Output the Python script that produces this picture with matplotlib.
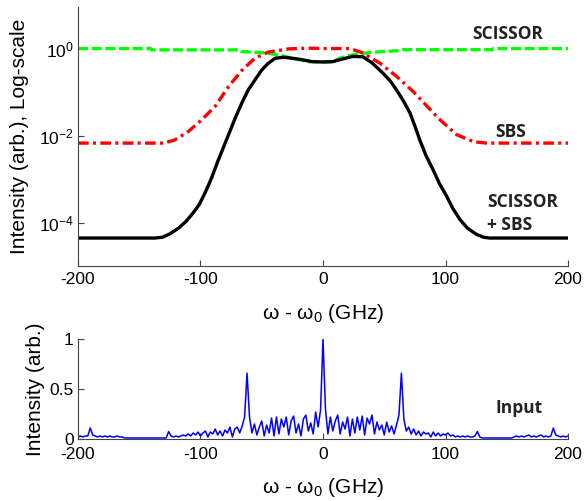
import numpy as np
import matplotlib
matplotlib.use('Agg')
import matplotlib.pyplot as plt

plt.rcParams['font.family'] = ['Liberation Sans', 'DejaVu Sans']
plt.rcParams['mathtext.default'] = 'regular'
plt.rcParams['axes.unicode_minus'] = False


# top panel: filter responses (GHz, intensity)
scissor_x = [-200, -141, -140, -68, -67, -47, -37, -28.5, -20, -12, 0, 8, 14, 24.5, 38, 63, 65, 138, 139, 200]
scissor_y = [1.0, 1.0, 0.93, 0.93, 0.86, 0.79, 0.72, 0.63, 0.56, 0.50, 0.49, 0.50, 0.60, 0.72, 0.81, 0.90, 0.94, 0.94, 1.0, 1.0]

sbs_x = [-200, -130, -121, -110, -99, -88, -77, -66, -55.5, -44.6, -28, -12, 0, 22, 32.6, 46.5, 60, 74, 85, 95.5, 109, 123, 133.6, 200]
sbs_y = [6.7e-3, 6.7e-3, 7.9e-3, 0.0123, 0.023, 0.047, 0.135, 0.32, 0.60, 0.83, 0.98, 1.02, 1.0, 1.0, 0.79, 0.46, 0.23, 0.10, 0.047, 0.023, 0.0105, 7.2e-3, 6.7e-3, 6.7e-3]

both_x = [-200, -137, -131, -125, -118, -112, -106, -101, -96, -91, -86, -81, -76, -71, -66, -61, -55, -50, -45, -39,
          -32, -25.6, -18, -9, 0, 8, 16, 24.5, 32.6, 40, 49, 55, 60, 66, 71, 75, 79, 84, 90, 95, 101, 106, 112, 118,
          125.5, 131, 136, 200]
both_y = [4.4e-5, 4.4e-5, 4.6e-5, 5.5e-5, 7.4e-5, 1.05e-4, 1.66e-4, 2.6e-4, 5.0e-4, 1.05e-3, 2.5e-3, 5.6e-3, 0.0125, 0.028,
          0.058, 0.112, 0.2, 0.32, 0.45, 0.60, 0.63, 0.60, 0.56, 0.50, 0.49, 0.50, 0.575, 0.66, 0.645, 0.47, 0.27, 0.178,
          0.112, 0.060, 0.033, 0.0166, 7.9e-3, 3.5e-3, 1.6e-3, 7.9e-4, 4.0e-4, 2.1e-4, 1.15e-4, 7.4e-5, 5.3e-5, 4.6e-5,
          4.4e-5, 4.4e-5]

# bottom panel: input spectrum sampled every 2 GHz from -200 to 200
input_x = np.arange(-200, 201, 2)
input_y = [
    0.02, 0.03, 0.02, 0.03, 0.03, 0.11, 0.04, 0.03, 0.02, 0.03,   # -200
    0.02, 0.03, 0.02, 0.03, 0.02, 0.02, 0.03, 0.02, 0.02, 0.01,   # -180
    0.01, 0.01, 0.01, 0.01, 0.01, 0.01, 0.01, 0.01, 0.01, 0.01,   # -160
    0.01, 0.01, 0.01, 0.01, 0.01, 0.01, 0.01, 0.075, 0.03, 0.02,  # -140
    0.03, 0.02, 0.03, 0.04, 0.03, 0.05, 0.03, 0.06, 0.04, 0.07,   # -120
    0.03, 0.06, 0.08, 0.02, 0.07, 0.05, 0.10, 0.04, 0.08, 0.03,   # -100
    0.09, 0.06, 0.12, 0.02, 0.10, 0.12, 0.06, 0.13, 0.22, 0.66,   # -80
    0.22, 0.06, 0.15, 0.04, 0.12, 0.18, 0.03, 0.14, 0.06, 0.21,   # -60
    0.03, 0.22, 0.05, 0.20, 0.12, 0.22, 0.04, 0.18, 0.23, 0.06,   # -40
    0.15, 0.03, 0.20, 0.24, 0.08, 0.16, 0.05, 0.27, 0.12, 0.29,   # -20
    1.00, 0.30, 0.05, 0.22, 0.08, 0.18, 0.24, 0.05, 0.17, 0.10,   # 0
    0.22, 0.03, 0.20, 0.06, 0.22, 0.09, 0.23, 0.04, 0.21, 0.15,   # 20
    0.24, 0.05, 0.17, 0.09, 0.14, 0.04, 0.17, 0.07, 0.13, 0.05,   # 40
    0.14, 0.24, 0.66, 0.20, 0.08, 0.12, 0.05, 0.10, 0.04, 0.08,   # 60
    0.03, 0.07, 0.05, 0.06, 0.02, 0.07, 0.03, 0.06, 0.03, 0.05,   # 80
    0.04, 0.06, 0.03, 0.04, 0.02, 0.03, 0.02, 0.03, 0.02, 0.03,   # 100
    0.02, 0.02, 0.03, 0.075, 0.02, 0.01, 0.01, 0.01, 0.01, 0.01,  # 120
    0.01, 0.01, 0.01, 0.01, 0.01, 0.01, 0.01, 0.01, 0.02, 0.03,   # 140
    0.02, 0.03, 0.02, 0.03, 0.04, 0.02, 0.03, 0.02, 0.03, 0.04,   # 160
    0.02, 0.03, 0.02, 0.03, 0.11, 0.04, 0.03, 0.02, 0.03, 0.02,   # 180
    0.03,                                                         # 200
]

xticks = [-200, -100, 0, 100, 200]
xlabel = 'ω - ω$_0$ (GHz)'

fig = plt.figure(figsize=(5.86, 5.01), dpi=100)
ax1 = fig.add_axes([0.1331, 0.469, 0.8362, 0.517])
ax2 = fig.add_axes([0.1331, 0.1238, 0.8362, 0.199])

for ax in (ax1, ax2):
    ax.spines['top'].set_visible(False)
    ax.spines['right'].set_visible(False)
    for s in ('left', 'bottom'):
        ax.spines[s].set_color('#444444')
        ax.spines[s].set_linewidth(0.8)
    ax.tick_params(direction='in', length=4, width=0.8, color='#444444', labelsize=12.5, pad=3)
    ax.tick_params(axis='x', pad=4)
    ax.set_xlim(-200, 200)
    ax.set_xticks(xticks)
    ax.set_xticklabels([str(t) for t in xticks])
ax2.tick_params(axis='x', pad=6)

# Top: log-scale responses
ax1.plot(scissor_x, scissor_y, color='#00ff00', lw=2.4, dashes=(3, 1.1))
ax1.plot(sbs_x, sbs_y, color='red', lw=2.4, dashes=(3.2, 1.3, 0.9, 1.3))
ax1.plot(both_x, both_y, color='black', lw=2.4)
ax1.set_yscale('log')
ax1.set_ylim(1e-5, 9)
ax1.set_yticks([1e-4, 1e-2, 1e0])
ax1.minorticks_off()
ax1.set_ylabel('Intensity (arb.), Log-scale', fontsize=15, labelpad=7)
ax1.set_xlabel(xlabel, fontsize=15, labelpad=11)

lab = dict(fontsize=12.5, fontweight='bold', family=['Open Sans', 'DejaVu Sans'], color='#222222')
ax1.text(151, 2.2, 'SCISSOR', ha='center', va='center', **lab)
ax1.text(153.5, 0.0123, 'SBS', ha='center', va='center', **lab)
ax1.text(134, 3.0e-4, 'SCISSOR', ha='left', va='center', **lab)
ax1.text(134, 8.9e-5, '+ SBS', ha='left', va='center', **lab)

# Bottom: linear input spectrum
ax2.plot(input_x, input_y, color='blue', lw=1.1)
ax2.set_ylim(0, 1)
ax2.set_yticks([0, 0.5, 1])
ax2.set_yticklabels(['0', '0.5', '1'])
ax2.set_ylabel('Intensity (arb.)', fontsize=15, labelpad=3)
ax2.set_xlabel(xlabel, fontsize=15, labelpad=10)
ax2.text(160, 0.31, 'Input', ha='center', va='center', **lab)

fig.savefig('out.png', dpi=100)
